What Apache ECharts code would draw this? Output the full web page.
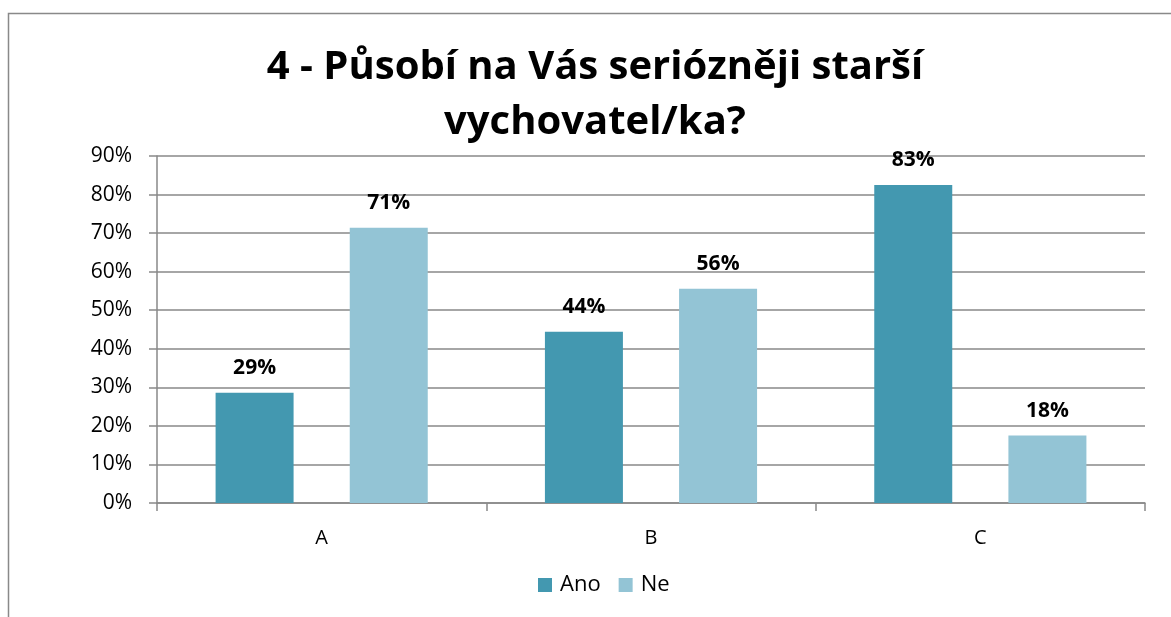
<!DOCTYPE html>
<html><head><meta charset="utf-8">
<script src="https://cdn.jsdelivr.net/npm/echarts@6/dist/echarts.min.js"></script>
<style>html,body{margin:0;padding:0;background:#fff}#c{width:1171px;height:617px}</style>
</head><body><div id="c"></div>
<script>
const titleText = '4 - Působí na Vás seriózněji starší\nvychovatel/ka?';
const categories = ['A', 'B', 'C'];
const seriesNames = ['Ano', 'Ne'];
const ano = [28.6, 44.4, 82.5];
const ne = [71.4, 55.6, 17.5];
const yTicks = [0, 10, 20, 30, 40, 50, 60, 70, 80, 90];

const font = '"Open Sans", "Noto Sans", sans-serif';
const chart = echarts.init(document.getElementById('c'), null, {renderer: 'canvas'});
const labelCfg = {
  show: true, position: 'top', distance: 14,
  formatter: p => Math.round(p.value) + '%',
  fontFamily: font, fontWeight: 'bold', fontSize: 21, color: '#000'
};
chart.setOption({
  animation: false,
  graphic: [{type: 'rect', shape: {x: 8.5, y: 13.5, width: 1200, height: 700},
    style: {fill: 'none', stroke: '#898989', lineWidth: 1.5}, silent: true}],
  title: {text: titleText, left: 595, top: 40, padding: 0, textAlign: 'center',
    textStyle: {fontFamily: font, fontWeight: 'bold', fontSize: 40, color: '#000', lineHeight: 55}},
  legend: {data: seriesNames, bottom: 16, left: 533, itemWidth: 14, itemHeight: 14, itemGap: 18,
    icon: 'rect', textStyle: {fontFamily: font, fontSize: 22, color: '#000', padding: [0, 0, 0, 3]}},
  grid: {left: 157, right: 26, top: 156, bottom: 114, containLabel: false},
  xAxis: {type: 'category', data: categories,
    axisLine: {lineStyle: {color: '#898989', width: 1.5}},
    axisTick: {show: true, length: 8, lineStyle: {color: '#898989', width: 1.5}},
    axisLabel: {fontFamily: font, fontSize: 20, color: '#000', margin: 25}},
  yAxis: {type: 'value', min: 0, max: 90, interval: 10,
    axisLine: {show: true, lineStyle: {color: '#898989', width: 1.5}},
    axisTick: {show: true, inside: false, length: 8, lineStyle: {color: '#898989', width: 1.5}},
    splitLine: {lineStyle: {color: '#898989', width: 1.5}},
    axisLabel: {fontFamily: font, fontSize: 21, color: '#000', margin: 25,
      formatter: v => yTicks.includes(v) ? v + '%' : ''}},
  series: [
    {name: seriesNames[0], type: 'bar', data: ano, barWidth: 78, barGap: '72%',
      itemStyle: {color: '#4398B0'}, label: labelCfg},
    {name: seriesNames[1], type: 'bar', data: ne, barWidth: 78,
      itemStyle: {color: '#93C4D5'}, label: labelCfg}
  ]
});
</script></body></html>
